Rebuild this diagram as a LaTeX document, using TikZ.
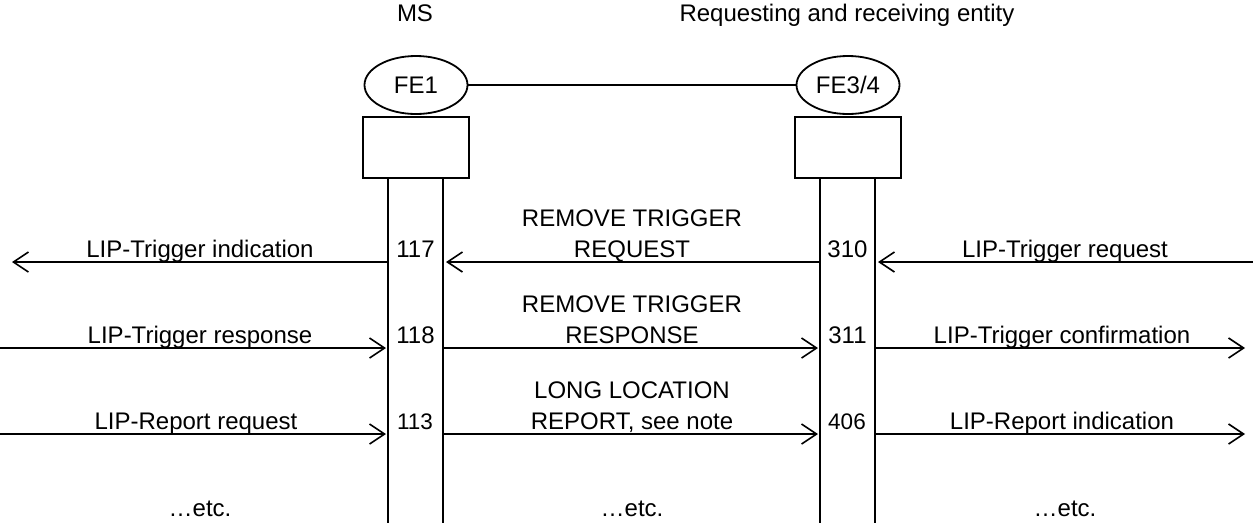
\documentclass[tikz,border=0pt]{standalone}
\usepackage{fontspec}
\setmainfont{Liberation Sans}
\usetikzlibrary{shapes.geometric,arrows.meta}
\begin{document}
\begin{tikzpicture}[x=1pt,y=-1pt,line width=1.8pt,
  fe/.style={draw,ellipse,minimum width=103pt,minimum height=58pt,inner sep=0pt},
  fbox/.style={draw,minimum width=106pt,minimum height=61pt,inner sep=0pt},
  msg/.style={-{Straight Barb[length=15pt,width=20pt,line width=1.6pt]}},
  lbl/.style={anchor=base,inner sep=0pt},
  small/.style={font=\fontsize{22.5}{26}\selectfont},
  every node/.style={font=\fontsize{24}{28}\selectfont}]
\useasboundingbox (0,0) rectangle (1253,523);
% headers
\node[lbl] (ms) at (415,21) {MS};
\node[lbl] (re) at (847,21) {Requesting and receiving entity};
% entities
\node[fe] (fe1) at (416,85) {FE1};
\node[fe] (fe3) at (848,85) {FE3/4};
\draw (fe1) -- (fe3);
\node[fbox] (b1) at (416,147.5) {};
\node[fbox] (b3) at (848,147.5) {};
% lifelines
\coordinate (l1a) at (388,178); \coordinate (l1b) at (388,523);
\coordinate (l2a) at (443,178); \coordinate (l2b) at (443,523);
\coordinate (l3a) at (820,178); \coordinate (l3b) at (820,523);
\coordinate (l4a) at (875,178); \coordinate (l4b) at (875,523);
\draw (l1a) -- (l1b); \draw (l2a) -- (l2b);
\draw (l3a) -- (l3b); \draw (l4a) -- (l4b);
% row 1
\coordinate (a1s) at (388,262); \coordinate (a1e) at (12,262);
\coordinate (b1s) at (820,262); \coordinate (b1e) at (446,262);
\coordinate (c1s) at (1253,262); \coordinate (c1e) at (878,262);
\draw[msg] (a1s) -- (a1e);
\draw[msg] (b1s) -- (b1e);
\draw[msg] (c1s) -- (c1e);
\node[lbl] (t1a) at (200,257) {LIP-Trigger indication};
\node[lbl] (n117) at (415.5,257) {117};
\node[lbl] (t1b1) at (632,226) {REMOVE TRIGGER};
\node[lbl] (t1b2) at (632,257) {REQUEST};
\node[lbl] (n310) at (847.5,257) {310};
\node[lbl] (t1c) at (1065,257) {LIP-Trigger request};
% row 2
\coordinate (a2s) at (0,348); \coordinate (a2e) at (386,348);
\coordinate (b2s) at (443,348); \coordinate (b2e) at (818,348);
\coordinate (c2s) at (875,348); \coordinate (c2e) at (1245,348);
\draw[msg] (a2s) -- (a2e);
\draw[msg] (b2s) -- (b2e);
\draw[msg] (c2s) -- (c2e);
\node[lbl] (t2a) at (200,343) {LIP-Trigger response};
\node[lbl] (n118) at (415.5,343) {118};
\node[lbl] (t2b1) at (632,312) {REMOVE TRIGGER};
\node[lbl] (t2b2) at (632,343) {RESPONSE};
\node[lbl] (n311) at (847.5,343) {311};
\node[lbl] (t2c) at (1062,343) {LIP-Trigger confirmation};
% row 3
\coordinate (a3s) at (0,434); \coordinate (a3e) at (386,434);
\coordinate (b3s) at (443,434); \coordinate (b3e) at (818,434);
\coordinate (c3s) at (875,434); \coordinate (c3e) at (1245,434);
\draw[msg] (a3s) -- (a3e);
\draw[msg] (b3s) -- (b3e);
\draw[msg] (c3s) -- (c3e);
\node[lbl] (t3a) at (196,429) {LIP-Report request};
\node[lbl,small] (n113) at (415,429) {113};
\node[lbl] (t3b1) at (632,398) {LONG LOCATION};
\node[lbl] (t3b2) at (632,429) {REPORT, see note};
\node[lbl,small] (n406) at (847,429) {406};
\node[lbl] (t3c) at (1062,429) {LIP-Report indication};
% etc
\node[lbl] (e1) at (200,516) {…etc.};
\node[lbl] (e2) at (632,516) {…etc.};
\node[lbl] (e3) at (1065,516) {…etc.};
\end{tikzpicture}
\end{document}
